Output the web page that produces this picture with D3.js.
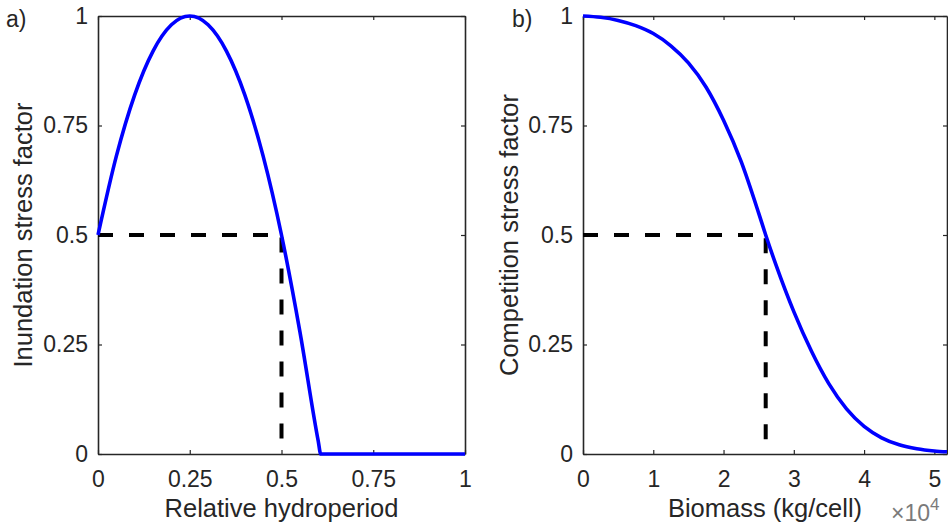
<!DOCTYPE html>
<html>
<head>
<meta charset="utf-8">
<script src="https://cdn.jsdelivr.net/npm/d3@7"></script>
<style>
  body { margin: 0; background: #fff; }
  svg { display: block; font-family: "Liberation Sans", Arial, sans-serif; }
  .axis path, .axis line { stroke: #262626; }
  .axis text { fill: #262626; }
</style>
</head>
<body>
<svg width="948" height="530"></svg>
<script>
// panel a) inundation stress vs relative hydroperiod
var hydroperiod = [0, 0.05, 0.1, 0.15, 0.2, 0.25, 0.3, 0.35, 0.4, 0.45, 0.5, 0.55, 0.6, 0.607, 0.75, 1];
var inundation  = [0.5, 0.68, 0.82, 0.92, 0.98, 1, 0.98, 0.92, 0.82, 0.68, 0.5, 0.28, 0.03, 0, 0, 0];

// panel b) competition stress vs biomass (x 10^4 kg/cell)
var biomass     = [0, 0.25, 0.5, 0.75, 1, 1.25, 1.5, 1.75, 2, 2.25, 2.5, 2.6, 2.75, 3, 3.25, 3.5, 3.75, 4, 4.25, 4.5, 4.75, 5, 5.18];
var competition = [1, 0.997, 0.99, 0.978, 0.96, 0.932, 0.893, 0.838, 0.762, 0.668, 0.55, 0.5, 0.43, 0.325, 0.235, 0.16, 0.103, 0.063, 0.037, 0.021, 0.012, 0.007, 0.005];

var yTicks = [0, 0.25, 0.5, 0.75, 1];
var xTicksA = [0, 0.25, 0.5, 0.75, 1];
var xTicksB = [0, 1, 2, 3, 4, 5];

// dashed reference at stress = 0.5
var refA = 0.5, refB = 2.6;

var plotTop = 16, plotHeight = 438;
var tickFont = 23, labelFont = 25.5;

var svg = d3.select('svg');

function panel(opts) {
  var g = svg.append('g').attr('transform', 'translate(' + opts.left + ',' + plotTop + ')');
  var x = d3.scaleLinear().domain(opts.xDomain).range([0, opts.width]);
  var y = d3.scaleLinear().domain([0, 1]).range([plotHeight, 0]);
  var fmt = function(d) { return String(d); };

  g.append('g').attr('class', 'axis')
      .attr('transform', 'translate(0,' + plotHeight + ')')
      .call(d3.axisBottom(x).tickValues(opts.xTicks).tickFormat(fmt).tickSizeInner(-4).tickSizeOuter(0).tickPadding(17));
  g.append('g').attr('class', 'axis')
      .call(d3.axisTop(x).tickValues(opts.xTicks).tickFormat('').tickSizeInner(-4).tickSizeOuter(0));
  g.append('g').attr('class', 'axis')
      .call(d3.axisLeft(y).tickValues(yTicks).tickFormat(fmt).tickSizeInner(-4).tickSizeOuter(0).tickPadding(10));
  g.append('g').attr('class', 'axis')
      .attr('transform', 'translate(' + opts.width + ',0)')
      .call(d3.axisRight(y).tickValues(yTicks).tickFormat('').tickSizeInner(-4).tickSizeOuter(0));

  g.selectAll('.axis path').attr('stroke-width', 1.6);
  g.selectAll('.axis line').attr('stroke-width', 1.2);
  g.selectAll('.axis text').attr('font-size', tickFont).attr('font-family', null);

  // dashed guide
  g.append('path')
      .attr('d', d3.line()([[x(0), y(0.5)], [x(opts.ref), y(0.5)], [x(opts.ref), y(0)]]))
      .attr('fill', 'none')
      .attr('stroke', '#000')
      .attr('stroke-width', 4)
      .attr('stroke-dasharray', '15,16');

  var line = d3.line()
      .x(function(d) { return x(d[0]); })
      .y(function(d) { return y(d[1]); })
      .curve(d3.curveMonotoneX);

  g.append('path')
      .datum(d3.zip(opts.xs, opts.ys))
      .attr('d', line)
      .attr('fill', 'none')
      .attr('stroke', '#0000ff')
      .attr('stroke-width', 3.6)
      .attr('stroke-linejoin', 'round');

  g.append('text')
      .attr('x', opts.width / 2)
      .attr('y', plotHeight + 63)
      .attr('text-anchor', 'middle')
      .attr('font-size', labelFont)
      .attr('fill', '#262626')
      .text(opts.xLabel);

  g.append('text')
      .attr('transform', 'rotate(-90)')
      .attr('x', -plotHeight / 2)
      .attr('y', opts.yLabelX)
      .attr('text-anchor', 'middle')
      .attr('font-size', labelFont)
      .attr('fill', '#262626')
      .text(opts.yLabel);

  svg.append('text')
      .attr('x', opts.tagX)
      .attr('y', 27)
      .attr('font-size', tickFont)
      .attr('fill', '#262626')
      .text(opts.tag);

  return { g: g, x: x, y: y };
}

panel({
  left: 98, width: 367, xDomain: [0, 1], xTicks: xTicksA,
  xs: hydroperiod, ys: inundation, ref: refA,
  xLabel: 'Relative hydroperiod', yLabel: 'Inundation stress factor',
  yLabelX: -66, tag: 'a)', tagX: 6
});

panel({
  left: 583, width: 364, xDomain: [0, 5.18], xTicks: xTicksB,
  xs: biomass, ys: competition, ref: refB,
  xLabel: 'Biomass (kg/cell)', yLabel: 'Competition stress factor',
  yLabelX: -65, tag: 'b)', tagX: 512
});

// exponent label
var ex = svg.append('text')
    .attr('x', 891)
    .attr('y', 521)
    .attr('font-size', tickFont)
    .attr('fill', '#7a7a7a');
ex.append('tspan').text('\u00d710');
ex.append('tspan').attr('dy', -11).attr('font-size', 17).text('4');
</script>
</body>
</html>
